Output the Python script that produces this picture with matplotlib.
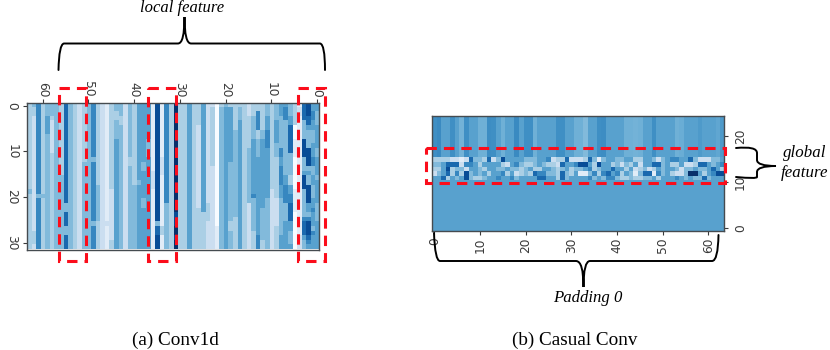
import numpy as np
import matplotlib
matplotlib.use("Agg")
import matplotlib.pyplot as plt
from matplotlib.path import Path
from matplotlib.patches import PathPatch, Rectangle

# Left heatmap: one string per displayed column (left to right, x = 63 ... 0), rows 0..31 top to bottom
left_columns = [
    "33333333 33333333 33343333 33333333", "43322222 22222222 22222222 22223332",
    "66666666 66666666 66664666 66666666", "33333333 33333333 33334333 33333333",
    "44455554 44444444 44444444 44444444", "44432222 22233333 33333333 33333333",
    "44444444 44444444 44444444 44444444", "33333333 33333333 44444444 44444444",
    "77777777 77777777 77777744 77744777", "44444444 44444444 44444444 44444444",
    "33333333 33333333 33333333 33333333", "22222222 22222222 22222222 22222222",
    "33333333 33333444 44444444 44444444", "44444444 44444444 44444444 44444444",
    "66666666 66664666 66666666 66466666", "33333333 33333333 33444444 44333333",
    "22222222 22222222 22222222 22222222", "11111111 11111111 11111111 11211111",
    "33333333 33333333 33322222 22222233", "44334444 55555555 55555555 55555555",
    "44433444 44444444 44444444 44444444", "22222222 22222222 22222222 22222222",
    "44444444 44443344 44444444 44444444", "33333333 33333333 33444444 44444444",
    "55555555 55555555 54555555 55555555", "55555555 55555445 55555445 55555555",
    "55555555 44445555 55555555 55555555", "11111111 11111112 22211111 11111111",
    "88888888 88888888 88888888 88477888", "11111111 11112222 11111111 11133111",
    "66666666 66666666 66666644 44444444", "33333333 33333333 33333333 33333333",
    "99999999 99999999 99999999 88899899", "33333333 33333333 33333333 33333333",
    "33333333 33333333 33333333 33333333", "55555555 55555555 55555555 55555555",
    "33333333 33333333 33333333 33333333", "33333222 22222222 22222223 33333333",
    "55555555 55555555 55555555 33333333", "22222222 22222222 22222233 33222222",
    "23333333 33333322 22222222 22222222", "00000000 00000000 00000000 00011111",
    "34444444 44444444 44444444 44444444", "45555555 55555555 55555555 55555555",
    "35555555 55555444 44444444 44334444", "33333344 44444444 44444444 43333333",
    "34445555 55555555 55555555 55555555", "33333333 33333333 33333333 33333333",
    "22233333 33444444 44444422 22222222", "33344444 55555555 55556444 44443333",
    "33666633 44445555 55555555 55555666", "33333344 55555555 55555554 44444433",
    "44455566 66555555 55555444 44444444", "33333333 33333333 33322222 22222222",
    "44445555 54443333 33333222 22233333", "55544444 44665566 66555444 44444555",
    "56664444 44444444 55666644 44555555", "44455777 77744444 33556677 77554445",
    "33333000 11110000 00011111 00000000", "12211111 11111111 11111111 11111222",
    "77774444 88884445 88844444 46777544", "88877544 44888845 44888855 46888765",
    "55665544 45556644 55444556 55546555", "55444555 55445555 45555544 44555555",
]

# Right heatmap rows
stripes = [
    5.7, 5.9, 5.0, 5.0, 5.7, 5.0, 4.3, 5.7, 5.0, 5.0, 4.4, 4.4, 5.8, 5.7, 5.0, 4.4,
    5.0, 5.0, 5.9, 5.0, 5.7, 5.7, 4.4, 5.0, 5.0, 5.0, 5.0, 5.7, 5.7, 5.0, 5.0, 4.4,
    4.4, 4.0, 5.0, 5.0, 5.7, 5.8, 5.0, 5.0, 5.0, 5.0, 4.4, 4.4, 4.3, 4.4, 5.0, 5.0,
    5.7, 5.0, 5.0, 5.0, 5.0, 4.4, 4.5, 5.0, 5.0, 5.0, 5.3, 5.0, 5.0, 5.0, 4.8, 5.3,
]
noise_rows = [  # top to bottom
    "33332212 74437248 55554445 56233722 23741455 44553355 42456655 74222445",
    "44577726 65355553 25643345 43327556 88538553 42435255 77453352 23775456",
    "33583442 55435544 54434533 55434534 45634557 55352342 35455424 45445753",
    "24573638 45453556 35234376 64437435 11463675 63541477 16453224 99535688",
    "55735458 43345565 56455557 75537455 55645466 43343344 53555654 54474555",
]
padding_value = 5
n_padding_rows = 11
n_stripe_rows = 9

xticks_all = [0, 10, 20, 30, 40, 50, 60]
yticks_left = [0, 10, 20, 30]
yticks_right = [0, 10, 20]
cap_a = "(a) Conv1d"
cap_b = "(b) Casual Conv"

left = np.array([[int(c) for c in s.replace(" ", "")] for s in left_columns]).T[:, ::-1]
right = np.array(
    [stripes] * n_stripe_rows
    + [[int(c) for c in s.replace(" ", "")] for s in noise_rows]
    + [[padding_value] * 64] * n_padding_rows
)[::-1]

W, H = 830, 350
fig = plt.figure(figsize=(W / 100, H / 100), dpi=100)
def px_axes(x0, x1, y0, y1, **kw):
    return fig.add_axes([x0 / W, 1 - y1 / H, (x1 - x0) / W, (y1 - y0) / H], **kw)

tick_col = "#3a3a3a"
spine_col = "#454b50"

a1 = px_axes(26.6, 319.4, 103.3, 249.5)
a1.imshow(left, cmap="Blues", vmin=0, vmax=9, aspect="auto", interpolation="nearest")
a1.set_xlim(63.5, -0.5)
a1.set_ylim(31.5, -0.5)
a1.xaxis.tick_top()
a1.set_xticks(xticks_all)
a1.set_yticks(yticks_left)
a1.tick_params(axis="x", labelrotation=-90, labelsize=8.8, length=3, width=0.8, pad=1.5, colors=tick_col)
a1.tick_params(axis="y", labelrotation=-90, labelsize=8.8, length=3, width=0.8, pad=3, colors=tick_col)
for t in a1.get_yticklabels():
    t.set_va("center")

a2 = px_axes(432, 724.3, 115.7, 230.7)
a2.imshow(right, cmap="Blues", vmin=0, vmax=9, aspect="auto", interpolation="nearest", origin="lower")
a2.set_xlim(-0.5, 63.5)
a2.set_ylim(-0.5, 24.5)
a2.yaxis.tick_right()
a2.set_xticks(xticks_all)
a2.set_yticks(yticks_right)
a2.tick_params(axis="x", labelrotation=90, labelsize=8.8, length=3, width=0.8, pad=2, colors=tick_col)
a2.tick_params(axis="y", labelrotation=90, labelsize=8.8, length=3, width=0.8, pad=4, colors=tick_col)
for t in a2.get_yticklabels():
    t.set_va("center")

for ax in (a1, a2):
    for s in ax.spines.values():
        s.set_color(spine_col)
        s.set_linewidth(1.0)

# Annotation overlay in pixel coordinates
ov = fig.add_axes([0, 0, 1, 1], zorder=5)
ov.set_xlim(0, W)
ov.set_ylim(H, 0)
ov.axis("off")
ov.patch.set_alpha(0)

for x0, x1, y0, y1 in [(58.7, 86, 88, 260.5), (148.3, 176, 88, 260.5), (297.5, 324.5, 88, 260.5), (426, 725, 148, 182.5)]:
    ov.add_patch(Rectangle((x0, y0), x1 - x0, y1 - y0, fill=False, ec="#fb0d1b", lw=2.2,
                           ls=(0, (3.4, 2.3))))

M, L, C = Path.MOVETO, Path.LINETO, Path.CURVE3
def brace(verts, codes):
    ov.add_patch(PathPatch(Path(verts, codes), fc="none", ec="black", lw=1.4, capstyle="round"))

# top brace
brace([(58.5, 70), (59, 44), (64, 43.5), (178, 43.5), (184.5, 43.5), (184.5, 17),
       (184.5, 43.5), (191, 43.5), (320, 43.5), (325, 44), (325, 70)],
      [M, C, C, L, C, C, C, C, L, C, C])
# bottom brace
brace([(434, 233), (435, 261), (440, 261), (576, 261), (583.5, 261), (583.5, 287),
       (583.5, 261), (590, 261), (712, 261), (718, 261), (718.5, 235)],
      [M, C, C, L, C, C, C, C, L, C, C])
# right brace
brace([(736, 148), (757, 146), (757, 153), (757, 160), (757, 166), (776, 166),
       (757, 166), (757, 172), (757, 177), (757, 179), (736, 177)],
      [M, C, C, L, C, C, C, C, L, C, C])

serif = "Liberation Serif"
ov.text(182, 8, "local feature", family=serif, style="italic", size=12, ha="center", va="center", color="black")
ov.text(588, 298, "Padding 0", family=serif, style="italic", size=12.1, ha="center", va="center", color="black")
ov.text(805, 153, "global", family=serif, style="italic", size=12.2, ha="center", va="center", color="black")
ov.text(805, 173, "feature", family=serif, style="italic", size=12.2, ha="center", va="center", color="black")
ov.text(175, 340, cap_a, family=serif, size=13.8, ha="center", va="center", color="black")
ov.text(575, 340, cap_b, family=serif, size=13.8, ha="center", va="center", color="black")

fig.savefig("out.png", dpi=100)
